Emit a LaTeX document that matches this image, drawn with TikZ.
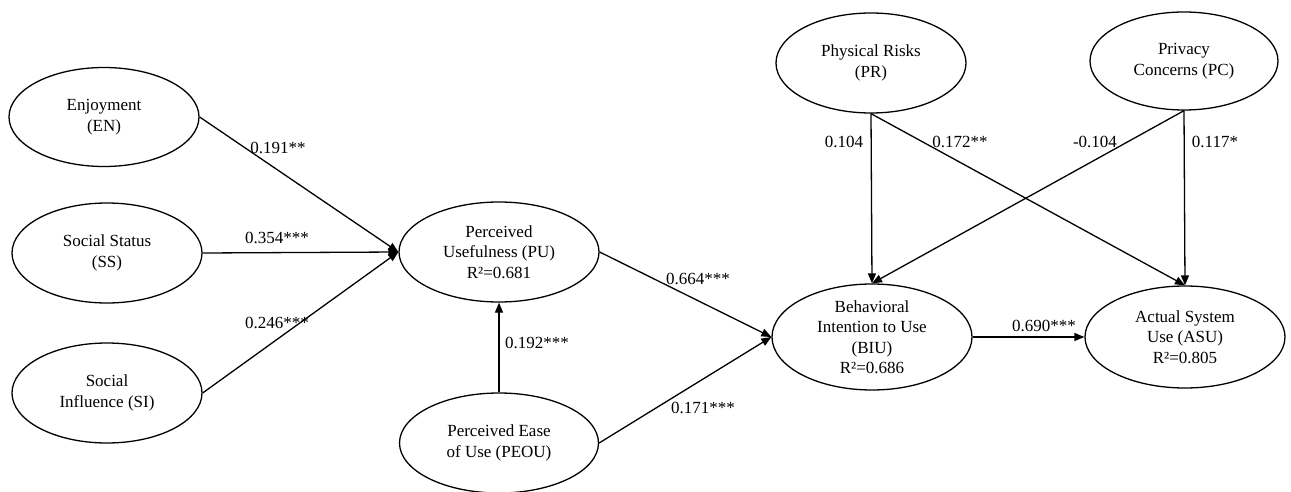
\documentclass[tikz,border=0pt]{standalone}
\usepackage{fontspec}
\setmainfont{Liberation Serif}
\usetikzlibrary{arrows.meta,shapes.geometric}
\begin{document}
\begin{tikzpicture}[x=1pt,y=-1pt,
  lv/.style={draw, ellipse, line width=1.3pt, inner sep=0pt, align=center,
    font=\fontsize{17}{20.5}\selectfont},
  lbl/.style={inner sep=0pt, font=\fontsize{17}{20.5}\selectfont},
  arr/.style={line width=1.3pt, -{Triangle[length=10pt,width=8pt]}}]
\useasboundingbox (0,0) rectangle (1291,492);
\node[lv, minimum width=190pt, minimum height=99pt] (EN) at (104,117) {Enjoyment\\(EN)};
\node[lv, minimum width=190pt, minimum height=100pt] (SS) at (107,253) {Social Status\\(SS)};
\node[lv, minimum width=190pt, minimum height=100pt] (SI) at (107,393) {Social\\Influence (SI)};
\node[lv, minimum width=200pt, minimum height=100pt] (PU) at (499,252) {Perceived\\Usefulness (PU)\\R²=0.681};
\node[lv, minimum width=199pt, minimum height=100pt] (PEOU) at (499,443) {Perceived Ease\\of Use (PEOU)};
\node[lv, minimum width=190pt, minimum height=100pt] (PR) at (871,63) {Physical Risks\\(PR)};
\node[lv, minimum width=188pt, minimum height=98pt] (PC) at (1184,61) {Privacy\\Concerns (PC)};
\node[lv, inner ysep=-6pt, minimum width=200pt, minimum height=106pt] (BIU) at (872,337) {Behavioral\\Intention to Use\\(BIU)\\R²=0.686};
\node[lv, minimum width=200pt, minimum height=102pt] (ASU) at (1185,337) {Actual System\\Use (ASU)\\R²=0.805};

\draw[arr] (EN.east) -- (PU.west);
\draw[arr] (SS.east) -- (PU.west);
\draw[arr] (SI.east) -- (PU.west);
\draw[arr] (PEOU.north) -- (PU.south);
\draw[arr] (PU.east) -- (BIU.west);
\draw[arr] (PEOU.east) -- (BIU.west);
\draw[arr] (PR.south) -- (BIU.north);
\draw[arr] (PR.south) -- (ASU.north);
\draw[arr] (PC.south) -- (BIU.north);
\draw[arr] (PC.south) -- (ASU.north);
\draw[arr] (BIU.east) -- (ASU.west);

\node[lbl] (l1) at (278,148) {0.191**};
\node[lbl] (l2) at (277,238) {0.354***};
\node[lbl] (l3) at (277,323) {0.246***};
\node[lbl] (l4) at (537,343) {0.192***};
\node[lbl] (l5) at (698,279) {0.664***};
\node[lbl] (l6) at (703,408) {0.171***};
\node[lbl] (l7) at (844,142) {0.104};
\node[lbl] (l8) at (960,142) {0.172**};
\node[lbl] (l9) at (1095,142) {-0.104};
\node[lbl] (l10) at (1215,142) {0.117*};
\node[lbl] (l11) at (1044,326) {0.690***};
\end{tikzpicture}
\end{document}
